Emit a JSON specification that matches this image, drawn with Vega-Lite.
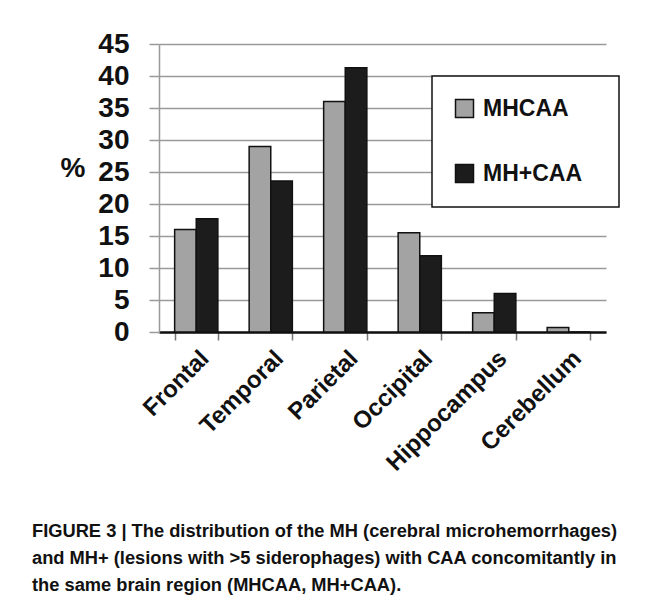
{
  "$schema": "https://vega.github.io/schema/vega-lite/v6.json",
  "autosize": "none",
  "width": 447,
  "height": 288,
  "padding": {"left": 159, "top": 44, "right": 65, "bottom": 270},
  "background": "white",
  "title": {
    "text": [
      "FIGURE 3 | The distribution of the MH (cerebral microhemorrhages)",
      "and MH+ (lesions with >5 siderophages) with CAA concomitantly in",
      "the same brain region (MHCAA, MH+CAA)."
    ],
    "orient": "bottom",
    "anchor": "start",
    "frame": "group",
    "dx": -127,
    "offset": 48,
    "font": "Liberation Sans",
    "fontSize": 18.3,
    "fontWeight": "bold",
    "color": "#111",
    "lineHeight": 27,
    "baseline": "top"
  },
  "data": {
    "values": [
      {"region": "Frontal", "series": "MHCAA", "pct": 16.0},
      {"region": "Frontal", "series": "MH+CAA", "pct": 17.7},
      {"region": "Temporal", "series": "MHCAA", "pct": 29.0},
      {"region": "Temporal", "series": "MH+CAA", "pct": 23.6},
      {"region": "Parietal", "series": "MHCAA", "pct": 36.0},
      {"region": "Parietal", "series": "MH+CAA", "pct": 41.3},
      {"region": "Occipital", "series": "MHCAA", "pct": 15.5},
      {"region": "Occipital", "series": "MH+CAA", "pct": 11.9},
      {"region": "Hippocampus", "series": "MHCAA", "pct": 3.0},
      {"region": "Hippocampus", "series": "MH+CAA", "pct": 6.0},
      {"region": "Cerebellum", "series": "MHCAA", "pct": 0.7},
      {"region": "Cerebellum", "series": "MH+CAA", "pct": 0}
    ]
  },
  "mark": {"type": "bar", "stroke": "#111", "strokeWidth": 1.5},
  "encoding": {
    "x": {
      "field": "region",
      "type": "nominal",
      "sort": ["Frontal", "Temporal", "Parietal", "Occipital", "Hippocampus", "Cerebellum"],
      "scale": {"paddingInner": 0.42, "paddingOuter": 0.21},
      "axis": {
        "title": null,
        "labelAngle": -45,
        "labelFont": "Liberation Sans",
        "labelFontSize": 24,
        "labelFontWeight": "bold",
        "labelColor": "#111",
        "labelPadding": 6,
        "tickBand": "extent",
        "tickSize": 8,
        "tickColor": "#777",
        "tickWidth": 1.5,
        "domainColor": "#111",
        "domainWidth": 2.5,
        "grid": false
      }
    },
    "xOffset": {
      "field": "series",
      "type": "nominal",
      "sort": ["MHCAA", "MH+CAA"],
      "scale": {"paddingInner": 0, "paddingOuter": 0}
    },
    "y": {
      "field": "pct",
      "type": "quantitative",
      "scale": {"domain": [0, 45], "nice": false},
      "axis": {
        "title": "%",
        "titleAngle": 0,
        "titleFont": "Liberation Sans",
        "titleFontSize": 28,
        "titleFontWeight": "bold",
        "titleColor": "#111",
        "titleX": -74,
        "titleY": 124,
        "titleAlign": "right",
        "titleBaseline": "middle",
        "values": [0, 5, 10, 15, 20, 25, 30, 35, 40, 45],
        "labelFont": "Liberation Sans",
        "labelFontSize": 28,
        "labelFontWeight": "bold",
        "labelColor": "#111",
        "labelPadding": 20,
        "tickSize": 10,
        "tickColor": "#999",
        "tickWidth": 1.5,
        "domainColor": "#999",
        "domainWidth": 1.5,
        "grid": true,
        "gridColor": "#9a9a9a",
        "gridWidth": 1.5
      }
    },
    "fill": {
      "field": "series",
      "type": "nominal",
      "sort": ["MHCAA", "MH+CAA"],
      "scale": {"domain": ["MHCAA", "MH+CAA"], "range": ["#a3a3a3", "#1c1c1c"]},
      "legend": {
        "title": "I",
        "titleOrient": "right",
        "titleColor": "white",
        "titleFontSize": 23,
        "titlePadding": 9,
        "orient": "none",
        "legendX": 273,
        "legendY": 32,
        "strokeColor": "#111",
        "fillColor": "white",
        "padding": 21,
        "rowPadding": 40,
        "symbolType": "square",
        "symbolSize": 324,
        "symbolStrokeColor": "#111",
        "symbolStrokeWidth": 1.5,
        "labelFont": "Liberation Sans",
        "labelFontSize": 23,
        "labelFontWeight": "bold",
        "labelColor": "#111",
        "labelOffset": 7,
        "labelLimit": 400,
        "encode": {"legend": {"update": {"strokeWidth": {"value": 1.5}}}}
      }
    }
  },
  "config": {
    "view": {"stroke": null}
  }
}
